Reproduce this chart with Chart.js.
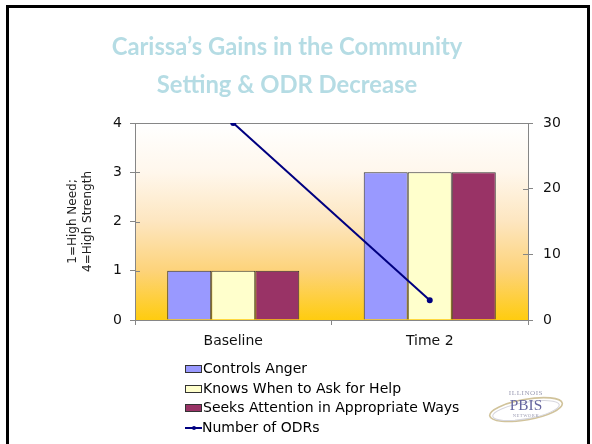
<!DOCTYPE html>
<html>
<head>
<meta charset="utf-8">
<script src="https://cdn.jsdelivr.net/npm/chart.js@4/dist/chart.umd.min.js"></script>
<style>
  html, body { margin: 0; padding: 0; background: #fff; }
  #wrap { position: relative; width: 592px; height: 444px; overflow: hidden; background: #fff; }
  #c { position: absolute; left: 0; top: 0; }
  #frame { position: absolute; left: 6px; top: 5px; width: 584px; height: 470px; border: 3px solid #000; box-sizing: border-box; pointer-events: none; }
  #legend { position: absolute; left: 185px; top: 359px; font-family: "DejaVu Sans", sans-serif; font-size: 14px; color: #000; }
  .row { height: 19.7px; line-height: 19.7px; display: flex; align-items: center; white-space: nowrap; }
  .sw { width: 15px; height: 6px; border: 1px solid #333; margin-right: 1px; flex: none; }
  .ln { width: 17px; height: 7px; position: relative; margin-right: 0px; flex: none; }
  .ln i { position: absolute; left: 0; top: 3px; width: 17px; height: 1.5px; background: #000080; }
  .ln b { position: absolute; left: 6.5px; top: 2px; width: 4px; height: 4px; border-radius: 50%; background: #000080; }
  #logo { position: absolute; left: 485px; top: 385px; width: 82px; height: 45px; opacity: 0.85; }
</style>
</head>
<body>
<div id="wrap">
  <canvas id="c" width="592" height="444"></canvas>
  <div id="legend"></div>
  <svg id="logo" viewBox="0 0 80 44" xmlns="http://www.w3.org/2000/svg">
    <ellipse cx="40" cy="24" rx="36" ry="10" fill="none" stroke="#c9b98a" stroke-width="1.6" transform="rotate(-10 40 24)"/>
    <ellipse cx="40" cy="25" rx="33" ry="8" fill="none" stroke="#cfcfd8" stroke-width="1" transform="rotate(-10 40 25)"/>
    <text x="40" y="10" text-anchor="middle" font-family="Liberation Serif, serif" font-size="7" fill="#8b8ba6" letter-spacing="0.5">ILLINOIS</text>
    <text x="40" y="24" text-anchor="middle" font-family="Liberation Serif, serif" font-size="15" fill="#4a4a8e">PBIS</text>
    <text x="40" y="31" text-anchor="middle" font-family="Liberation Serif, serif" font-size="4.5" fill="#8b8ba6" letter-spacing="0.5">NETWORK</text>
  </svg>
  <div id="frame"></div>
</div>
<script>
// ---- data ----
const categories = ['Baseline', 'Time 2'];
const controlsAnger = [1, 3];
const knowsWhenToAskForHelp = [1, 3];
const seeksAttention = [1, 3];
const numberOfODRs = [30, 3];
const seriesNames = ['Controls Anger', 'Knows When to Ask for Help', 'Seeks Attention in Appropriate Ways', 'Number of ODRs'];
const leftAxisTitle = ['1=High Need;', '4=High Strength'];
const titleLines = ['Carissa\u2019s Gains in the Community', 'Setting & ODR Decrease'];

// ---- styles ----
const colors = ['#9999FF', '#FFFFCC', '#993366', '#000080'];
const axisGray = '#868686';

// title font size fitted to reference width
const mctx = document.createElement('canvas').getContext('2d');
mctx.font = 'bold 100px Lato';
const titleSize = Math.round(100 * 350 / mctx.measureText(titleLines[0]).width * 10) / 10;

const plotBg = {
  id: 'plotBg',
  beforeDraw(chart) {
    const {ctx, chartArea: a} = chart;
    const g = ctx.createLinearGradient(0, a.top, 0, a.bottom);
    g.addColorStop(0, '#FFFFFF');
    g.addColorStop(0.25, '#FFF7EC');
    g.addColorStop(0.5, '#FDE6C0');
    g.addColorStop(0.75, '#FDD37A');
    g.addColorStop(1, '#FFCC0F');
    ctx.save();
    ctx.fillStyle = g;
    ctx.fillRect(a.left, a.top, a.right - a.left, a.bottom - a.top);
    ctx.restore();
  }
};

const innerTicks = {
  id: 'innerTicks',
  afterDatasetsDraw(chart) {
    const {ctx, chartArea: a, scales} = chart;
    ctx.save();
    ctx.strokeStyle = axisGray;
    ctx.lineWidth = 1;
    ctx.beginPath();
    scales.y.ticks.forEach(t => {
      const py = Math.round(scales.y.getPixelForValue(t.value)) + 0.5;
      ctx.moveTo(a.left, py); ctx.lineTo(a.left + 5, py);
    });
    scales.y1.ticks.forEach(t => {
      const py = Math.round(scales.y1.getPixelForValue(t.value)) + 0.5;
      ctx.moveTo(a.right - 5, py); ctx.lineTo(a.right, py);
    });
    ctx.stroke();
    ctx.restore();
  }
};

const tickFont = {family: 'DejaVu Sans', size: 14};

new Chart(document.getElementById('c'), {
  data: {
    labels: categories,
    datasets: [
      { type: 'line', label: seriesNames[3], data: numberOfODRs, yAxisID: 'y1', order: 0,
        borderColor: colors[3], backgroundColor: colors[3], borderWidth: 2,
        pointRadius: 2, pointHoverRadius: 2, tension: 0 },
      { type: 'bar', label: seriesNames[0], data: controlsAnger, yAxisID: 'y', order: 1,
        backgroundColor: colors[0], borderColor: '#333333', borderWidth: 1 },
      { type: 'bar', label: seriesNames[1], data: knowsWhenToAskForHelp, yAxisID: 'y', order: 1,
        backgroundColor: colors[1], borderColor: '#333333', borderWidth: 1 },
      { type: 'bar', label: seriesNames[2], data: seeksAttention, yAxisID: 'y', order: 1,
        backgroundColor: colors[2], borderColor: '#333333', borderWidth: 1 }
    ]
  },
  options: {
    responsive: false,
    animation: false,
    events: [],
    datasets: { bar: { categoryPercentage: 0.672, barPercentage: 1.0 } },
    layout: { padding: { left: 0, right: 18, top: 0, bottom: 0 } },
    plugins: {
      legend: { display: false },
      tooltip: { enabled: false },
      title: {
        display: true,
        text: titleLines,
        color: '#B5DCE4',
        font: { family: 'Lato', weight: 'bold', size: titleSize, lineHeight: 38 / titleSize },
        padding: { top: 28, bottom: 19 }
      }
    },
    scales: {
      x: {
        offset: true,
        border: { display: true, color: axisGray, width: 1 },
        grid: { offset: true, drawOnChartArea: false, drawTicks: true, tickLength: 5, color: axisGray },
        ticks: { font: tickFont, color: '#111', padding: 8 },
        afterFit(s) { s.height = 124; }
      },
      y: {
        position: 'left',
        min: 0, max: 4,
        ticks: { stepSize: 1, font: tickFont, color: '#111', padding: 8 },
        border: { display: true, color: axisGray, width: 1 },
        grid: {
          drawTicks: true, tickLength: 5, tickColor: axisGray,
          color: c => (c.tick && c.tick.value === 4) ? axisGray : 'rgba(0,0,0,0)'
        },
        title: { display: true, text: leftAxisTitle, color: '#222',
                 font: { family: 'DejaVu Sans', size: 12, lineHeight: 1.2 }, padding: { top: 66, bottom: 0 } },
        afterFit(s) { s.width = 135; }
      },
      y1: {
        position: 'right',
        min: 0, max: 30,
        ticks: { stepSize: 10, font: tickFont, color: '#111', padding: 10 },
        border: { display: true, color: axisGray, width: 1 },
        grid: { drawOnChartArea: false, drawTicks: true, tickLength: 5, color: axisGray },
        afterFit(s) { s.width = 592 - 18 - 528; }
      }
    }
  },
  plugins: [plotBg, innerTicks]
});

// HTML legend built from the series
const legend = document.getElementById('legend');
seriesNames.forEach((name, i) => {
  const row = document.createElement('div');
  row.className = 'row';
  if (i < 3) {
    const sw = document.createElement('span');
    sw.className = 'sw';
    sw.style.background = colors[i];
    row.appendChild(sw);
  } else {
    const ln = document.createElement('span');
    ln.className = 'ln';
    ln.innerHTML = '<i></i><b></b>';
    row.appendChild(ln);
  }
  const t = document.createElement('span');
  t.textContent = name;
  row.appendChild(t);
  legend.appendChild(row);
});
</script>
</body>
</html>
